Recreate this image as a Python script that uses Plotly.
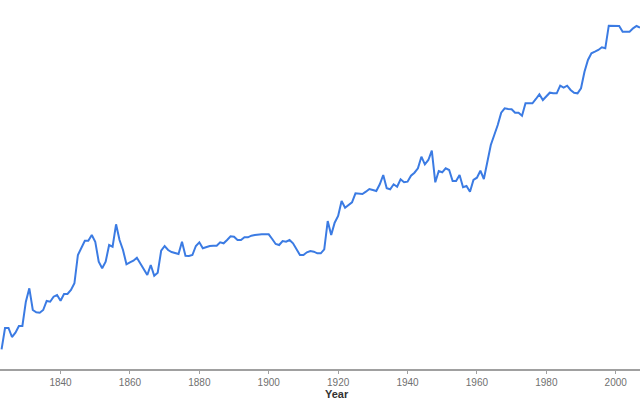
import plotly.graph_objects as go

# =========================
# DATOS
# =========================
years = list(range(1823, 2008))

values = [
    19.7, 41, 41, 32, 36.3, 43, 43, 67.3, 80.7, 59,
    56.7, 56.3, 59, 68, 67.3, 72.3, 74, 68.3, 75, 75,
    79, 85.7, 114, 120.7, 128.3, 128.3, 134, 127.3, 107.3, 100.7,
    107.3, 124, 122.3, 144.7, 129, 119, 104.7, 106.7, 108.3, 111.3,
    105.7, 100, 94, 104, 93.3, 96.3, 118.3, 123, 119, 117,
    116.3, 115, 127.3, 113.3, 113, 114, 123, 126.7, 120.7, 122,
    123, 123.3, 123.3, 126.7, 125.7, 129, 132.7, 132.3, 129, 129,
    131.7, 131.7, 133.3, 134, 134.7, 134.7, 134.7, 134.7, 130, 125,
    124, 128, 127.3, 129, 125.7, 119.7, 114, 114, 116.7, 118,
    117.3, 115.7, 115.7, 119.7, 148, 134, 146.3, 153, 168, 161.3,
    164, 166.7, 175.7, 175, 175, 177.3, 180, 179, 178, 184.7,
    194, 180.7, 179.7, 184.7, 182.3, 189.7, 186.7, 187.3, 193.3, 196.3,
    200.7, 212.3, 204.7, 209, 218.3, 186.7, 198, 196.7, 200.7, 199,
    188, 188, 194, 181.7, 183, 177.3, 189, 191.3, 198.3, 190,
    209, 224, 234, 244, 256.3, 260.7, 260, 259.7, 256.3, 256.3,
    253.3, 265.7, 265.7, 265.7, 270, 274.7, 269, 273, 276.3, 275.7,
    275.7, 283.3, 281.3, 283.3, 279, 276.3, 275.7, 280.7, 297.3, 309,
    315.7, 317.3, 319, 321.7, 320.7, 343.3, 343.3, 343, 343, 337.3,
    337.3, 337.3, 340.7, 343, 341.3,
]

tick_years = [1840, 1860, 1880, 1900, 1920, 1940, 1960, 1980, 2000]

# =========================
# FIGURA
# =========================
fig = go.Figure()

fig.add_trace(
    go.Scatter(
        x=years,
        y=values,
        mode="lines",
        line=dict(color="#3b7be3", width=2),
        hoverinfo="x+y",
        showlegend=False,
    )
)

fig.update_layout(
    width=640,
    height=400,
    margin=dict(l=0, r=0, t=0, b=31),
    paper_bgcolor="white",
    plot_bgcolor="white",
    font=dict(family="Liberation Sans, Arial, sans-serif"),
    xaxis=dict(
        range=[1822.55, 2007],
        showgrid=False,
        zeroline=False,
        showline=True,
        linecolor="#a0a0a0",
        linewidth=2,
        ticks="outside",
        ticklen=3,
        tickcolor="#a0a0a0",
        tickvals=tick_years,
        ticktext=[str(y) for y in tick_years],
        tickfont=dict(size=10, color="#707070"),
    ),
    yaxis=dict(range=[0, 369], visible=False),
    annotations=[
        dict(
            text="<b>Year</b>",
            xref="paper",
            yref="paper",
            x=337 / 640,
            y=-(394 - 369) / 369,
            xanchor="center",
            yanchor="middle",
            showarrow=False,
            font=dict(size=11, color="#333333"),
        )
    ],
)

# quitar el margen por defecto del <body> para que el gráfico llene la ventana
fig.write_html(
    "out.html",
    config={"displayModeBar": False},
    post_script="document.body.style.margin='0';document.body.style.overflow='hidden';",
)
